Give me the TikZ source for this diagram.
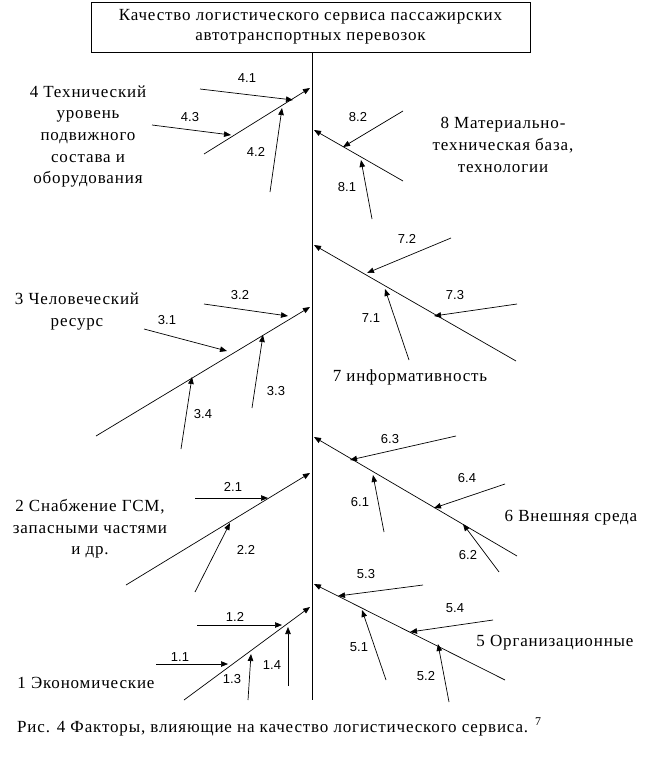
\documentclass[tikz,border=0pt]{standalone}
\usepackage{fontspec}
\setmainfont{Liberation Serif}[LetterSpace=5]
\newfontfamily\labfont{Liberation Sans}
\usetikzlibrary{arrows.meta}
\tikzset{
  bone/.style={line width=0.7pt,-{Triangle[length=7pt,width=5.5pt]}},
  twig/.style={line width=0.7pt,-{Triangle[length=7pt,width=5.5pt]}},
  num/.style={font=\labfont\fontsize{13}{15}\selectfont,inner sep=0pt},
  cat/.style={font=\fontsize{17}{21.7}\selectfont,align=center,inner sep=0pt},
  titlebox/.style={draw,line width=0.8pt,minimum width=439pt,minimum height=50pt,inner sep=0pt,
    font=\fontsize{17}{20}\selectfont,align=center}
}
\begin{document}
\begin{tikzpicture}[x=1pt,y=-1pt]
\useasboundingbox (0,0) rectangle (661,763);
% title and spine
\node[titlebox] (title) at (310.5,27) {Качество логистического сервиса пассажирских\\автотранспортных перевозок};
\coordinate (spinebot) at (312,700);
\draw[line width=1pt] (title.south -| spinebot) -- (spinebot);

% ---------- branch 4 ----------
\coordinate (b4s) at (204,154); \coordinate (b4e) at (310,88);
\draw[bone] (b4s) -- (b4e);
\coordinate (c41s) at (200,89);  \coordinate (c41e) at (293,100);
\coordinate (c43s) at (152,125); \coordinate (c43e) at (231,135);
\coordinate (c42s) at (270,192); \coordinate (c42e) at (282,108);
\draw[twig] (c41s) -- (c41e);
\draw[twig] (c43s) -- (c43e);
\draw[twig] (c42s) -- (c42e);
\node[num] (n41) at (247,78) {4.1};
\node[num] (n43) at (190,117) {4.3};
\node[num] (n42) at (256,152) {4.2};
\node[cat] (l4) at (88,136.5) {4 Технический\\уровень\\подвижного\\состава и\\оборудования};

% ---------- branch 8 ----------
\coordinate (b8s) at (403,181); \coordinate (b8e) at (314,130);
\draw[bone] (b8s) -- (b8e);
\coordinate (c82s) at (403,111); \coordinate (c82e) at (343,147);
\coordinate (c81s) at (372,219); \coordinate (c81e) at (361,160);
\draw[twig] (c82s) -- (c82e);
\draw[twig] (c81s) -- (c81e);
\node[num] (n82) at (358,117) {8.2};
\node[num] (n81) at (347,187) {8.1};
\node[cat] (l8) at (503,145) {8 Материально-\\техническая база,\\технологии};

% ---------- branch 3 ----------
\coordinate (b3s) at (96,436); \coordinate (b3e) at (310,307);
\draw[bone] (b3s) -- (b3e);
\coordinate (c32s) at (204,304); \coordinate (c32e) at (288,316);
\coordinate (c31s) at (144,329); \coordinate (c31e) at (227,351);
\coordinate (c33s) at (252,408); \coordinate (c33e) at (263,335);
\coordinate (c34s) at (181,449); \coordinate (c34e) at (192,377);
\draw[twig] (c32s) -- (c32e);
\draw[twig] (c31s) -- (c31e);
\draw[twig] (c33s) -- (c33e);
\draw[twig] (c34s) -- (c34e);
\node[num] (n32) at (240,295) {3.2};
\node[num] (n31) at (167,320) {3.1};
\node[num] (n33) at (276,391) {3.3};
\node[num] (n34) at (203,414) {3.4};
\node[cat] (l3) at (77,311.5) {3 Человеческий\\ресурс};

% ---------- branch 7 ----------
\coordinate (b7s) at (516,361); \coordinate (b7e) at (314,245);
\draw[bone] (b7s) -- (b7e);
\coordinate (c72s) at (451,238); \coordinate (c72e) at (367,273);
\coordinate (c73s) at (517,304); \coordinate (c73e) at (434,316);
\coordinate (c71s) at (409,360); \coordinate (c71e) at (385,289);
\draw[twig] (c72s) -- (c72e);
\draw[twig] (c73s) -- (c73e);
\draw[twig] (c71s) -- (c71e);
\node[num] (n72) at (407,239) {7.2};
\node[num] (n73) at (455,295) {7.3};
\node[num] (n71) at (371,318) {7.1};
\node[cat] (l7) at (410,377) {7 информативность};

% ---------- branch 2 ----------
\coordinate (b2s) at (126,585); \coordinate (b2e) at (310,473);
\draw[bone] (b2s) -- (b2e);
\coordinate (c21s) at (195,498); \coordinate (c21e) at (268,498);
\coordinate (c22s) at (195,592); \coordinate (c22e) at (230,523);
\draw[twig] (c21s) -- (c21e);
\draw[twig] (c22s) -- (c22e);
\node[num] (n21) at (233,487) {2.1};
\node[num] (n22) at (246,550) {2.2};
\node[cat] (l2) at (90,529) {2 Снабжение ГСМ,\\запасными частями\\и др.};

% ---------- branch 6 ----------
\coordinate (b6s) at (517,556); \coordinate (b6e) at (314,437);
\draw[bone] (b6s) -- (b6e);
\coordinate (c63s) at (456,436); \coordinate (c63e) at (350,460);
\coordinate (c64s) at (505,484); \coordinate (c64e) at (434,508);
\coordinate (c61s) at (384,532); \coordinate (c61e) at (373,475);
\coordinate (c62s) at (499,572); \coordinate (c62e) at (463,524);
\draw[twig] (c63s) -- (c63e);
\draw[twig] (c64s) -- (c64e);
\draw[twig] (c61s) -- (c61e);
\draw[twig] (c62s) -- (c62e);
\node[num] (n63) at (390,439) {6.3};
\node[num] (n64) at (467,478) {6.4};
\node[num] (n61) at (360,502) {6.1};
\node[num] (n62) at (468,555) {6.2};
\node[cat] (l6) at (571,518) {6 Внешняя среда};

% ---------- branch 5 ----------
\coordinate (b5s) at (505,680); \coordinate (b5e) at (314,584);
\draw[bone] (b5s) -- (b5e);
\coordinate (c53s) at (423,585); \coordinate (c53e) at (338,596);
\coordinate (c54s) at (493,620); \coordinate (c54e) at (410,632);
\coordinate (c51s) at (386,680); \coordinate (c51e) at (362,610);
\coordinate (c52s) at (449,702); \coordinate (c52e) at (438,644);
\draw[twig] (c53s) -- (c53e);
\draw[twig] (c54s) -- (c54e);
\draw[twig] (c51s) -- (c51e);
\draw[twig] (c52s) -- (c52e);
\node[num] (n53) at (366,574) {5.3};
\node[num] (n54) at (455,608) {5.4};
\node[num] (n51) at (359,647) {5.1};
\node[num] (n52) at (426,676) {5.2};
\node[cat] (l5) at (555,643) {5 Организационные};

% ---------- branch 1 ----------
\coordinate (b1s) at (184,700); \coordinate (b1e) at (310,607);
\draw[bone] (b1s) -- (b1e);
\coordinate (c12s) at (197,625); \coordinate (c12e) at (282,625);
\coordinate (c11s) at (156,664); \coordinate (c11e) at (228,664);
\coordinate (c13s) at (248,700); \coordinate (c13e) at (251,654);
\coordinate (c14s) at (288,686); \coordinate (c14e) at (288,627);
\draw[twig] (c12s) -- (c12e);
\draw[twig] (c11s) -- (c11e);
\draw[twig] (c13s) -- (c13e);
\draw[twig] (c14s) -- (c14e);
\node[num] (n12) at (235,617) {1.2};
\node[num] (n11) at (180,657) {1.1};
\node[num] (n13) at (232,679) {1.3};
\node[num] (n14) at (272,665) {1.4};
\node[cat] (l1) at (86,683) {1 Экономические};

% caption
\node[cat,anchor=west] (caption) at (17,727) {Рис. 4 Факторы, влияющие на качество логистического сервиса. \textsuperscript{7}};
\end{tikzpicture}
\end{document}
